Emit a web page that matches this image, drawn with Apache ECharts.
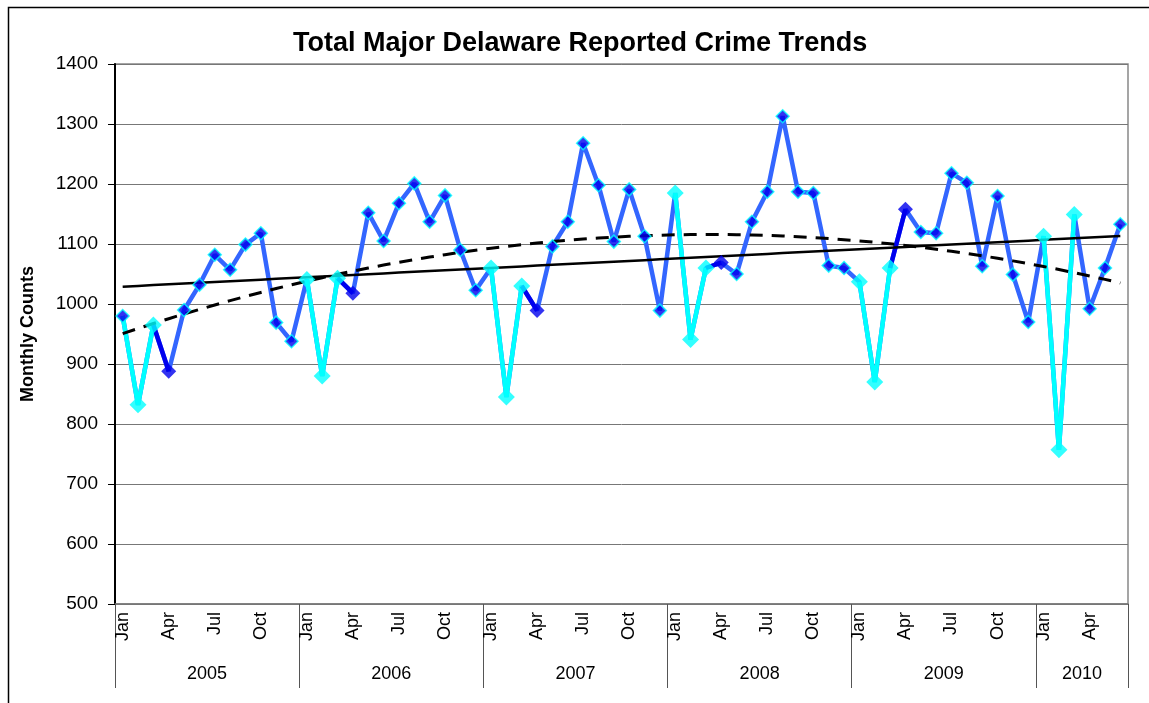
<!DOCTYPE html>
<html>
<head>
<meta charset="utf-8">
<title>Total Major Delaware Reported Crime Trends</title>
<script src="https://cdn.jsdelivr.net/npm/echarts@6/dist/echarts.min.js"></script>
<style>
  html, body { margin: 0; padding: 0; background: #fff; }
  #chart { width: 1149px; height: 703px; }
</style>
</head>
<body>
<div id="chart"></div>
<script>
// monthly counts (Jan 2005 - Jun 2010)
const counts2005 = [980, 832, 965, 888, 990, 1032, 1082, 1057, 1099, 1118, 969, 938]
const counts2006 = [1041, 880, 1043, 1018, 1152, 1105, 1168, 1201, 1137, 1181, 1090, 1023]
const counts2007 = [1060, 845, 1030, 989, 1096, 1137, 1268, 1198, 1104, 1191, 1113, 989]
const counts2008 = [1185, 941, 1060, 1069, 1050, 1137, 1187, 1313, 1187, 1185, 1064, 1060]
const counts2009 = [1037, 870, 1060, 1158, 1120, 1118, 1218, 1202, 1063, 1180, 1049, 970]
const counts2010 = [1113, 757, 1149, 992, 1060, 1133]

const years = ['2005', '2006', '2007', '2008', '2009', '2010']
const monthNames = ['Jan', 'Feb', 'Mar', 'Apr', 'May', 'Jun', 'Jul', 'Aug', 'Sep', 'Oct', 'Nov', 'Dec']

const perYear = [counts2005, counts2006, counts2007, counts2008, counts2009, counts2010]
const values = [].concat(...perYear)
const months = []
const monthIdx = []
const yearIdx = []
perYear.forEach((arr, y) => {
  arr.forEach((v, m) => {
    months.push(monthNames[m])
    monthIdx.push(m)
    yearIdx.push(y)
  })
})

// year boundaries / middles on a 0..n scale for the second (group) axis
const yearEdges = [0]
const yearMids = []
perYear.forEach(arr => {
  const start = yearEdges[yearEdges.length - 1]
  yearMids.push(start + arr.length / 2)
  yearEdges.push(start + arr.length)
})

// highlighted pieces (winter months cyan, April dark blue)
const lastYear = years.length - 1
const cyanLine = values.map((v, i) => (monthIdx[i] <= 2 ? v : '-'))
const darkLine = values.map((v, i) => ((monthIdx[i] === 2 || monthIdx[i] === 3) && yearIdx[i] !== lastYear ? v : '-'))
const isCyanPt = i => monthIdx[i] <= 2 && i !== 0
const isDarkPt = i => monthIdx[i] === 3 && yearIdx[i] !== lastYear
const normalPts = values.map((v, i) => (!isCyanPt(i) && !isDarkPt(i) ? v : '-'))
const cyanPts = values.map((v, i) => (isCyanPt(i) ? v : '-'))
const darkPts = values.map((v, i) => (isDarkPt(i) ? v : '-'))

// trend lines fitted like the spreadsheet does (x = 1..n)
function polyFit(ys, order) {
  const n = order + 1
  const A = []
  for (let r = 0; r < n; r++) {
    A.push(new Array(n + 1).fill(0))
  }
  ys.forEach((y, i) => {
    const x = i + 1
    for (let r = 0; r < n; r++) {
      for (let c = 0; c < n; c++) A[r][c] += Math.pow(x, r + c)
      A[r][n] += y * Math.pow(x, r)
    }
  })
  for (let p = 0; p < n; p++) {
    for (let r = p + 1; r < n; r++) {
      const f = A[r][p] / A[p][p]
      for (let c = p; c <= n; c++) A[r][c] -= f * A[p][c]
    }
  }
  const coef = new Array(n).fill(0)
  for (let r = n - 1; r >= 0; r--) {
    let s = A[r][n]
    for (let c = r + 1; c < n; c++) s -= A[r][c] * coef[c]
    coef[r] = s / A[r][r]
  }
  return ys.map((y, i) => coef.reduce((acc, k, p) => acc + k * Math.pow(i + 1, p), 0))
}
const linearTrend = polyFit(values, 1)
const polyTrend = polyFit(values, 2)

const font = 'Arial, "Liberation Sans", sans-serif'
const chart = echarts.init(document.getElementById('chart'))

chart.setOption({
  animation: false,
  backgroundColor: '#fff',
  title: {
    text: 'Total Major Delaware Reported Crime Trends',
    left: 293,
    top: 30,
    padding: 0,
    textStyle: { fontFamily: font, fontSize: 27, fontWeight: 'bold', color: '#000' }
  },
  graphic: [{
    type: 'rect',
    left: 6,
    top: 5,
    shape: { width: 1300, height: 900 },
    style: { fill: 'none', stroke: '#000', lineWidth: 1.5 },
    silent: true
  }],
  grid: {
    left: 115,
    right: 21,
    top: 64,
    bottom: 99,
    show: true,
    borderColor: '#888',
    borderWidth: 1.5
  },
  xAxis: [{
    type: 'category',
    data: months,
    boundaryGap: true,
    axisLine: { lineStyle: { color: '#777', width: 1.5 } },
    axisTick: { show: false },
    axisLabel: {
      interval: (index) => monthIdx[index] % 3 === 0,
      rotate: 90,
      margin: 8,
      fontFamily: font,
      fontSize: 18,
      color: '#000'
    }
  }, {
    type: 'value',
    position: 'bottom',
    min: 0,
    max: values.length,
    axisLine: { show: false },
    splitLine: { show: false },
    axisTick: {
      show: true,
      customValues: yearEdges,
      length: 84,
      lineStyle: { color: '#555', width: 1 }
    },
    axisLabel: {
      customValues: yearMids,
      formatter: (v) => years[yearMids.indexOf(v)] || '',
      margin: 61,
      fontFamily: font,
      fontSize: 18,
      color: '#000'
    }
  }],
  yAxis: {
    type: 'value',
    min: 500,
    max: 1400,
    interval: 100,
    name: 'Monthly Counts',
    nameLocation: 'middle',
    nameRotate: 90,
    nameGap: 78,
    nameTextStyle: { fontFamily: font, fontSize: 18, fontWeight: 'bold', color: '#000' },
    axisLine: { show: true, lineStyle: { color: '#000', width: 2 } },
    axisTick: { show: true, length: 7, lineStyle: { color: '#000' } },
    axisLabel: { fontFamily: font, fontSize: 19, color: '#000', margin: 17, formatter: (v) => String(v) },
    splitLine: { lineStyle: { color: '#777', width: 1 } }
  },
  series: [
    {
      name: 'Monthly Counts',
      type: 'line',
      data: values,
      symbol: 'none',
      lineStyle: { color: '#3366ff', width: 4.5 },
      z: 2
    },
    {
      name: 'Winter',
      type: 'line',
      data: cyanLine,
      symbol: 'none',
      connectNulls: false,
      lineStyle: { color: '#00ffff', width: 4.5 },
      z: 3
    },
    {
      name: 'April',
      type: 'line',
      data: darkLine,
      symbol: 'none',
      connectNulls: false,
      lineStyle: { color: '#0000ee', width: 4.5 },
      z: 3
    },
    {
      name: 'Linear trend',
      type: 'line',
      data: linearTrend,
      symbol: 'none',
      silent: true,
      lineStyle: { color: '#000', width: 2.5 },
      z: 4
    },
    {
      name: 'Poly trend',
      type: 'line',
      data: polyTrend,
      symbol: 'none',
      silent: true,
      lineStyle: { color: '#000', width: 3, type: [13, 9] },
      z: 4
    },
    {
      type: 'scatter',
      data: normalPts,
      symbol: 'diamond',
      symbolSize: 13,
      itemStyle: { color: '#0000ee', borderColor: '#00ffff', borderWidth: 1.5 },
      z: 5
    },
    {
      type: 'scatter',
      data: cyanPts,
      symbol: 'diamond',
      symbolSize: 17,
      itemStyle: { color: '#00ffff' },
      z: 5
    },
    {
      type: 'scatter',
      data: darkPts,
      symbol: 'diamond',
      symbolSize: 15,
      itemStyle: { color: '#0000ee' },
      z: 5
    }
  ]
})
</script>
</body>
</html>
